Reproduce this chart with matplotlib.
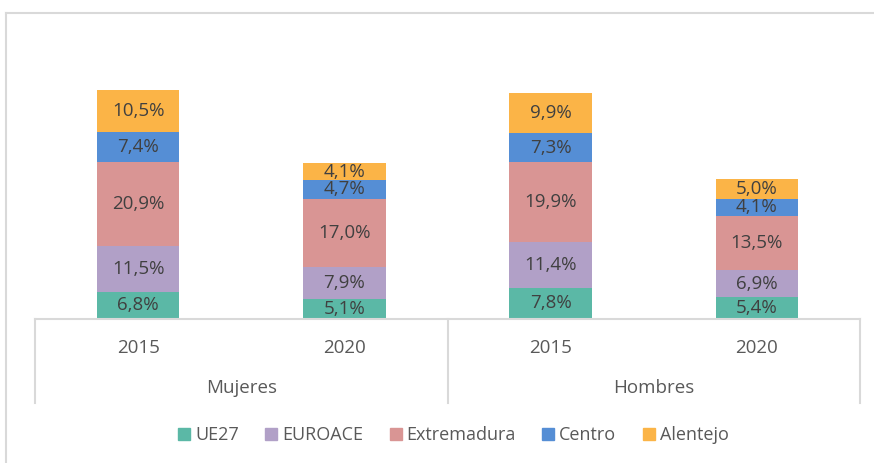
import matplotlib.pyplot as plt
from matplotlib.lines import Line2D

plt.rcParams['font.family'] = ['Open Sans', 'DejaVu Sans']

years = ['2015', '2020', '2015', '2020']
groups = ['Mujeres', 'Hombres']
series = ['UE27', 'EUROACE', 'Extremadura', 'Centro', 'Alentejo']
ue27 = [6.8, 5.1, 7.8, 5.4]
euroace = [11.5, 7.9, 11.4, 6.9]
extremadura = [20.9, 17.0, 19.9, 13.5]
centro = [7.4, 4.7, 7.3, 4.1]
alentejo = [10.5, 4.1, 9.9, 5.0]
values = [ue27, euroace, extremadura, centro, alentejo]
colors = ['#5BB8A6', '#B1A0C7', '#D99594', '#558ED5', '#FBB447']

W, H = 874, 463
fig = plt.figure(figsize=(W / 100, H / 100), dpi=100)

# outer chart border (only top and left visible in the crop)
border = '#D9D9D9'
fig.add_artist(Line2D([5.5 / W, 5.5 / W], [0, 1 - 12.5 / H], color=border, lw=1.5))
fig.add_artist(Line2D([5.5 / W, 1], [1 - 12.5 / H, 1 - 12.5 / H], color=border, lw=1.5))

ax_l, ax_r, ax_b = 35, 860, 319
ax_h = 280.7
ax = fig.add_axes([ax_l / W, (H - ax_b) / H, (ax_r - ax_l) / W, ax_h / H])
ax.set_xlim(-0.5, 3.5)
ax.set_ylim(0, 70)
ax.axis('off')

x = range(len(years))
bottom = [0, 0, 0, 0]
for name, vals, c in zip(series, values, colors):
    ax.bar(x, vals, width=0.40, bottom=bottom, color=c, label=name)
    for i, v in enumerate(vals):
        ax.text(i, bottom[i] + v / 2, f'{v:.1f}%'.replace('.', ','),
                ha='center', va='center', fontsize=13.5, color='#404040')
    bottom = [b + v for b, v in zip(bottom, vals)]

# category axis with grouped labels
ax.plot([-0.5, 3.5], [0, 0], color=border, lw=1.5, clip_on=False)
for xv in [-0.5, 1.5, 3.5]:
    ax.plot([xv, xv], [0, -0.30], color=border, lw=1.5, clip_on=False,
            transform=ax.get_xaxis_transform())
for i, y in enumerate(years):
    ax.text(i, -0.103, y, ha='center', va='center', fontsize=13.5,
            color='#595959', transform=ax.get_xaxis_transform())
for j, g in enumerate(groups):
    ax.text(0.5 + 2 * j, -0.246, g, ha='center', va='center', fontsize=13.5,
            color='#595959', transform=ax.get_xaxis_transform())

handles = [Line2D([], [], marker='s', linestyle='none', markersize=8.5,
                  markerfacecolor=c, markeredgecolor=c) for c in colors]
fig.legend(handles, series, loc='center', bbox_to_anchor=(452 / W, 1 - 435 / H),
           ncol=5, frameon=False, fontsize=13, labelcolor='#595959',
           handletextpad=0.1, columnspacing=1.3, handlelength=1.0)

fig.savefig('out.png', dpi=100)
